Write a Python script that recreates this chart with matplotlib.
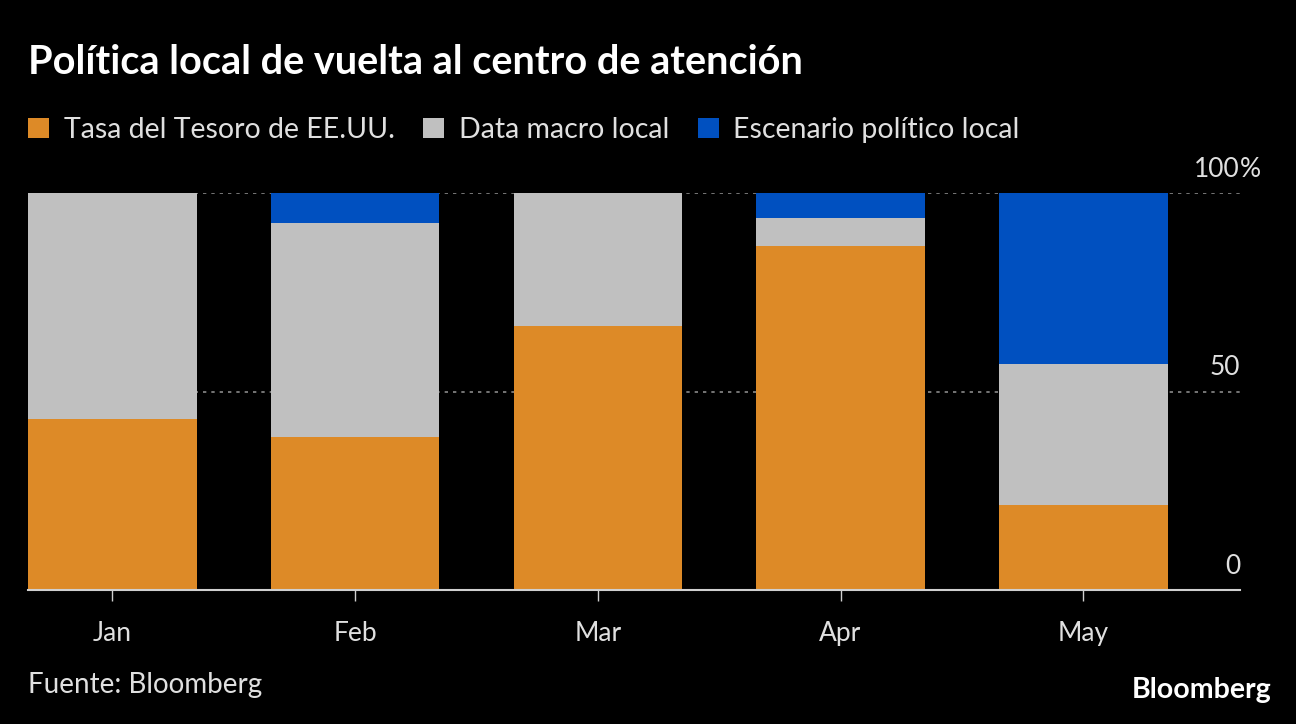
import matplotlib.pyplot as plt
from matplotlib.patches import Patch

# Data (share of attention, %)
months = ["Jan", "Feb", "Mar", "Apr", "May"]
treasury = [43.1, 38.5, 66.5, 86.6, 21.4]
macro = [56.9, 53.9, 33.5, 7.1, 35.5]
politics = [0.0, 7.6, 0.0, 6.3, 43.1]
series_names = ["Tasa del Tesoro de EE.UU.", "Data macro local", "Escenario político local"]
colors = ["#DD8A27", "#C0C0C0", "#0050C0"]
yticks = [0, 50, 100]
ytick_labels = ["0", "50", "100"]

plt.rcParams['font.family'] = ['Lato', 'DejaVu Sans']
bg = "black"

fig = plt.figure(figsize=(12.96, 7.24), dpi=100, facecolor=bg)
ax = fig.add_axes([28 / 1296, 1 - 590 / 724, (1240 - 28) / 1296, (590 - 193) / 724])
ax.set_facecolor(bg)

x = list(range(len(months)))
width = 0.695
bottom2 = [a + b for a, b in zip(treasury, macro)]
ax.bar(x, treasury, width, color=colors[0], zorder=3)
ax.bar(x, macro, width, bottom=treasury, color=colors[1], zorder=3)
ax.bar(x, politics, width, bottom=bottom2, color=colors[2], zorder=3)

ax.set_xlim(-0.348, 4.646)
ax.set_ylim(0, 100)

# dotted gridlines
for yv in yticks[1:]:
    ax.axhline(yv, color="#8a8a8a", linestyle=(0, (2, 3)), linewidth=1.2, zorder=1)

# right-side tick labels sitting above the lines, "%" hangs past the axis
for yv, lab in zip(yticks, ytick_labels):
    ax.annotate(lab, xy=(1, yv), xycoords=("axes fraction", "data"),
                xytext=(0, 8), textcoords="offset points",
                ha="right", va="bottom", color="#e0e0e0", fontsize=19)
ax.annotate("%", xy=(1, yticks[-1]), xycoords=("axes fraction", "data"),
            xytext=(0, 8), textcoords="offset points",
            ha="left", va="bottom", color="#e0e0e0", fontsize=19)

for s in ["top", "right", "left"]:
    ax.spines[s].set_visible(False)
ax.spines["bottom"].set_color("#d0d0d0")
ax.spines["bottom"].set_linewidth(1.5)
ax.spines["bottom"].set_zorder(4)
ax.set_yticks([])
ax.set_xticks(x)
ax.set_xticklabels(months)
ax.tick_params(axis="x", colors="#d0d0d0", length=8, width=1, pad=14,
               labelsize=19, labelcolor="#e0e0e0")

fig.text(28 / 1296, 1 - 62 / 724, "Política local de vuelta al centro de atención",
         color="white", fontsize=28.5, fontweight="bold", va="center", ha="left")

handles = [Patch(facecolor=c, edgecolor="none") for c in colors]
fig.legend(handles, series_names, loc="center left",
           bbox_to_anchor=(28 / 1296, 1 - 130 / 724), ncol=3, frameon=False,
           fontsize=20.5, labelcolor="#e0e0e0", handlelength=0.75, handleheight=0.75,
           handletextpad=0.5, columnspacing=1.0, borderaxespad=0, borderpad=0)

fig.text(28 / 1296, 1 - 685 / 724, "Fuente: Bloomberg", color="#e0e0e0",
         fontsize=20, va="center", ha="left")
fig.text(1272 / 1296, 1 - 690 / 724, "Bloomberg", color="white",
         fontsize=20.5, fontweight="bold", va="center", ha="right")

fig.savefig("out.png", dpi=100, facecolor=bg)
